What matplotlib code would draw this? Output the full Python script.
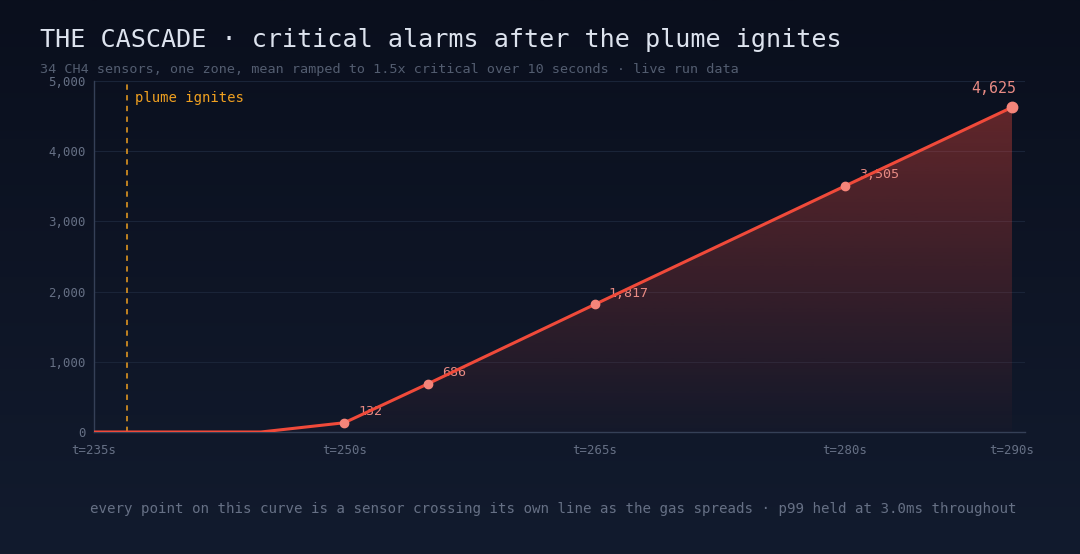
import matplotlib
matplotlib.use("Agg")
import matplotlib.pyplot as plt
import numpy as np
from matplotlib.patches import Polygon
from matplotlib.colors import LinearSegmentedColormap

# DATA
TIMES = [235, 240, 245, 250, 255, 265, 280, 290]
ALARMS = [0, 0, 0, 132, 686, 1817, 3505, 4625]
LABELLED = [250, 255, 265, 280]
IGNITE_T = 237
X_TICKS = [235, 250, 265, 280, 290]
Y_TICKS = [0, 1000, 2000, 3000, 4000, 5000]

TITLE = "THE CASCADE \u00b7 critical alarms after the plume ignites"
SUBTITLE = ("34 CH4 sensors, one zone, mean ramped to 1.5x critical over 10 seconds"
            " \u00b7 live run data")
FOOTER = ("every point on this curve is a sensor crossing its own line as the gas"
          " spreads \u00b7 p99 held at 3.0ms throughout")

LINE_RED = "#f04a3a"
DOT = "#f5857a"
LABEL = "#e98b84"
ORANGE = "#f0a020"
MUTED = "#667085"
FONT = "DejaVu Sans Mono"


def main():
    plt.rcParams["font.family"] = FONT
    fig = plt.figure(figsize=(10.8, 5.54), dpi=100)

    # background gradient
    bg = fig.add_axes([0, 0, 1, 1], zorder=-10)
    cmap = LinearSegmentedColormap.from_list("bg", ["#0a0f1d", "#121b2e"])
    bg.imshow(np.linspace(0, 1, 256).reshape(-1, 1), aspect="auto", cmap=cmap,
              extent=(0, 1, 0, 1), origin="upper")
    bg.set_axis_off()

    ax = fig.add_axes([94 / 1080, 1 - 432 / 554, 931 / 1080, 351 / 554])
    ax.set_facecolor("none")
    ax.set_xlim(235, 290.78)
    ax.set_ylim(0, 5000)

    # gradient fill under the curve
    verts = list(zip(TIMES, ALARMS)) + [(TIMES[-1], 0), (TIMES[0], 0)]
    poly = Polygon(verts, closed=True, facecolor="none", edgecolor="none")
    ax.add_patch(poly)
    grad = np.zeros((256, 1, 4))
    grad[..., 0] = 239 / 255
    grad[..., 1] = 74 / 255
    grad[..., 2] = 60 / 255
    grad[..., 3] = np.linspace(0.38, 0.02, 256).reshape(-1, 1)
    im = ax.imshow(grad, aspect="auto", extent=(TIMES[0], TIMES[-1], 0, max(ALARMS)),
                   origin="upper", zorder=1)
    im.set_clip_path(poly)

    for y in Y_TICKS[1:]:
        ax.axhline(y, color="#1a2438", lw=0.8, zorder=0.5)

    ax.plot(TIMES, ALARMS, color=LINE_RED, lw=2.2, zorder=4, solid_capstyle="round")

    for t, v in zip(TIMES, ALARMS):
        if t in LABELLED:
            ax.plot(t, v, "o", color=DOT, ms=6, zorder=5)
            ax.annotate(f"{v:,}", (t, v), xytext=(10, 8), textcoords="offset points",
                        color=LABEL, fontsize=9.6, ha="left", va="center", zorder=3)
    ax.plot(TIMES[-1], ALARMS[-1], "o", color=DOT, ms=7.5, zorder=5)
    ax.annotate(f"{ALARMS[-1]:,}", (TIMES[-1], ALARMS[-1]), xytext=(-13, 8),
                textcoords="offset points", color=LABEL, fontsize=10.8,
                ha="center", va="bottom", zorder=3)

    ax.axvline(IGNITE_T, color=ORANGE, lw=1.1, ls=(0, (3.5, 3.5)), zorder=3)
    ax.text(IGNITE_T + 0.45, 4760, "plume ignites", color=ORANGE, fontsize=10,
            ha="left", va="center")

    ax.set_xticks(X_TICKS)
    ax.set_xticklabels([f"t={t}s" for t in X_TICKS])
    ax.set_yticks(Y_TICKS)
    ax.set_yticklabels([f"{y:,}" for y in Y_TICKS])
    ax.tick_params(colors=MUTED, labelsize=8.9, length=0)
    ax.tick_params(axis="x", pad=9)
    ax.tick_params(axis="y", pad=6)
    for side in ("top", "right"):
        ax.spines[side].set_visible(False)
    for side in ("left", "bottom"):
        ax.spines[side].set_color("#354057")
        ax.spines[side].set_linewidth(1)

    fig.text(40 / 1080, 1 - 40 / 554, TITLE, color="#dde3ee", fontsize=18.1,
             ha="left", va="center")
    fig.text(40 / 1080, 1 - 70 / 554, SUBTITLE, color="#535d70", fontsize=9.7,
             ha="left", va="center")
    fig.text(553 / 1080, 1 - 509 / 554, FOOTER, color=MUTED, fontsize=10.2,
             ha="center", va="center")

    fig.savefig("out.png", dpi=100)


if __name__ == "__main__":
    main()
